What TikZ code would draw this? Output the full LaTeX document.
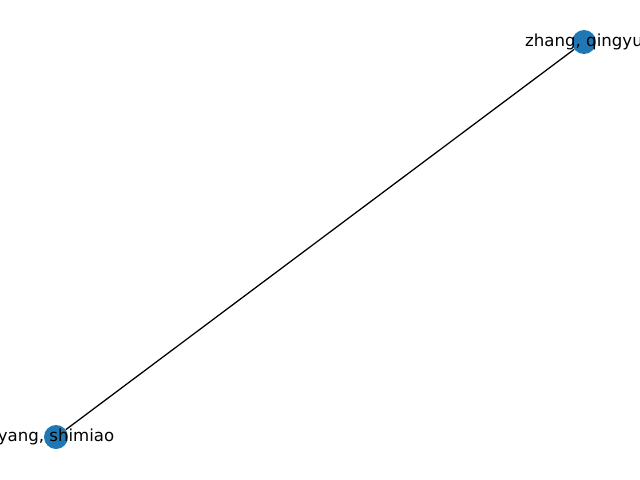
\documentclass[tikz,border=0pt]{standalone}
\usepackage{fontspec}
\setmainfont{DejaVu Sans}
\definecolor{nodeblue}{HTML}{1F77B4}
\tikzset{
    person/.style={circle, fill=nodeblue, minimum size=0.6cm, inner sep=0pt},
    namelabel/.style={font=\fontsize{11.8}{14}\selectfont, inner sep=0pt, anchor=center}
}
\begin{document}
\begin{tikzpicture}[x=0.025cm, y=-0.025cm]

% canvas
\useasboundingbox (0,0) rectangle (640,480);
\clip (0,0) rectangle (640,480);

% Nodes
\node[person] (zhang) at (584, 42) {};
\node[person] (yang) at (56, 437) {};

% Edge
\draw[black, line width=0.9pt] (zhang) -- (yang);

% Labels
\node[namelabel] (zhanglabel) at (zhang) {zhang, qingyu};
\node[namelabel] (yanglabel) at (yang) {yang, shimiao};

\end{tikzpicture}
\end{document}
